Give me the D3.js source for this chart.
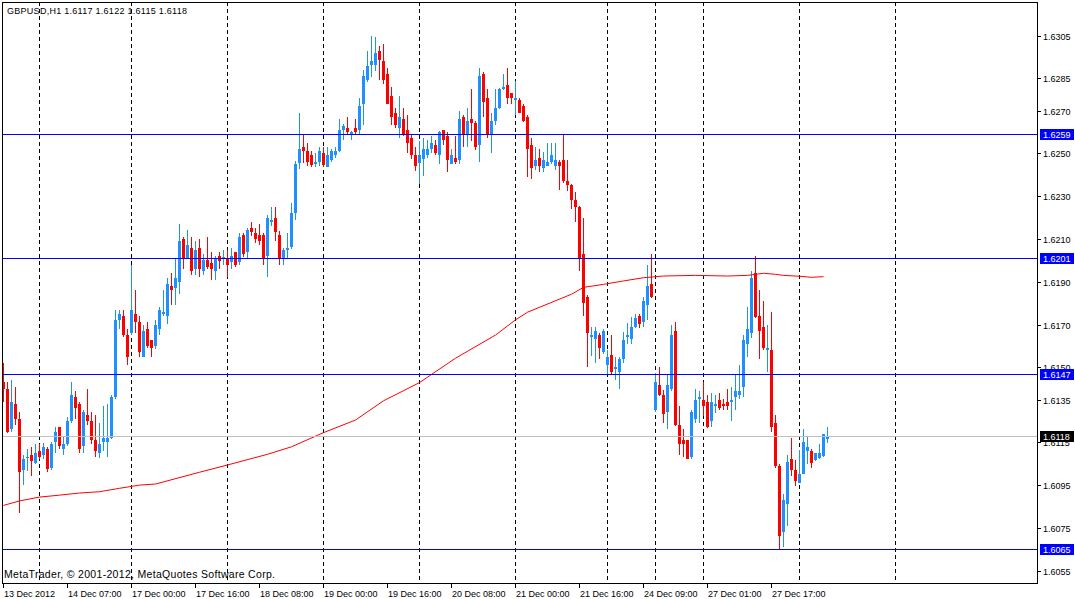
<!DOCTYPE html>
<html lang="en">
<head>
<meta charset="UTF-8">
<title>GBPUSD,H1</title>
<script src="https://d3js.org/d3.v7.min.js"></script>
<style>
  body { margin: 0; background: #fff; }
  svg { display: block; }
  text { font-family: "Liberation Sans", Arial, sans-serif; font-size: 9px; fill: #000; }
</style>
</head>
<body>
<svg id="chart" width="1075" height="599"></svg>
<script>
// hourly bars (index 0 = 13 Dec 2012 15:00)
const opens = [
  1.61433,1.61399,1.61218,1.61329,1.61259,1.61027,1.61080,1.61090,1.61056,1.61109,
  1.61095,1.61118,1.61033,1.61156,1.61221,1.61125,1.61147,1.61255,1.61361,1.61329,
  1.61139,1.61277,1.61249,1.61160,1.61106,1.61157,1.61157,1.61176,1.61368,1.61726,
  1.61740,1.61653,1.61667,1.61749,1.61712,1.61555,1.61679,1.61628,1.61605,1.61686,
  1.61753,1.61745,1.61880,1.61876,1.61904,1.62100,1.62016,1.62056,1.61965,1.62056,
  1.61957,1.62002,1.61988,1.61957,1.62021,1.62014,1.62010,1.61997,1.62039,1.61997,
  1.62119,1.62044,1.62152,1.62128,1.62119,1.62119,1.62026,1.62186,1.62198,1.62119,
  1.62016,1.62055,1.62068,1.62228,1.62458,1.62530,1.62511,1.62492,1.62454,1.62465,
  1.62502,1.62440,1.62474,1.62497,1.62518,1.62614,1.62619,1.62591,1.62619,1.62614,
  1.62736,1.62848,1.62918,1.62918,1.62978,1.62932,1.62871,1.62768,1.62689,1.62624,
  1.62661,1.62609,1.62572,1.62492,1.62458,1.62478,1.62497,1.62525,1.62539,1.62497,
  1.62609,1.62581,1.62455,1.62479,1.62474,1.62670,1.62591,1.62661,1.62642,1.62544,
  1.62871,1.62759,1.62595,1.62656,1.62717,1.62806,1.62820,1.62782,1.62756,1.62750,
  1.62722,1.62670,1.62539,1.62446,1.62479,1.62437,1.62446,1.62465,1.62446,1.62460,
  1.62469,1.62371,1.62352,1.62282,1.62250,1.62030,1.61829,1.61648,1.61639,1.61653,
  1.61577,1.61516,1.61558,1.61497,1.61483,1.61544,1.61648,1.61639,1.61695,1.61742,
  1.61718,1.61798,1.61890,1.61306,1.61418,1.61371,1.61296,1.61404,1.61670,1.61231,
  1.61161,1.61161,1.61086,1.61264,1.61357,1.61348,1.61338,1.61255,1.61326,1.61348,
  1.61330,1.61338,1.61345,1.61366,1.61376,1.61413,1.61614,1.61665,1.61941,1.61740,
  1.61689,1.61586,1.61581,1.61240,1.61039,1.60735,1.60866,1.61072,1.61020,1.60964,
  1.61007,1.61114,1.61109,1.61072,1.61081,1.61090,1.61170
];
const highs = [
  1.61522,1.61433,1.61441,1.61408,1.61291,1.61090,1.61117,1.61128,1.61142,1.61142,
  1.61148,1.61128,1.61150,1.61221,1.61221,1.61176,1.61270,1.61433,1.61390,1.61340,
  1.61301,1.61399,1.61291,1.61277,1.61241,1.61321,1.61329,1.61371,1.61768,1.61768,
  1.61768,1.61679,1.61978,1.61861,1.61740,1.61698,1.61712,1.61628,1.61722,1.61782,
  1.61862,1.61919,1.61941,1.62010,1.62170,1.62109,1.62142,1.62109,1.62091,1.62100,
  1.62030,1.62109,1.62039,1.62021,1.62039,1.62049,1.62049,1.62056,1.62039,1.62128,
  1.62128,1.62152,1.62180,1.62152,1.62170,1.62126,1.62212,1.62250,1.62250,1.62137,
  1.62056,1.62128,1.62268,1.62464,1.62687,1.62586,1.62549,1.62511,1.62502,1.62530,
  1.62530,1.62530,1.62521,1.62530,1.62661,1.62638,1.62670,1.62605,1.62661,1.62759,
  1.62890,1.62978,1.63049,1.63044,1.63002,1.63011,1.62899,1.62810,1.62712,1.62768,
  1.62712,1.62679,1.62586,1.62530,1.62558,1.62572,1.62563,1.62581,1.62563,1.62605,
  1.62609,1.62600,1.62521,1.62581,1.62698,1.62680,1.62712,1.62801,1.62650,1.62900,
  1.62880,1.62801,1.62689,1.62801,1.62806,1.62871,1.62899,1.62782,1.62838,1.62759,
  1.62731,1.62680,1.62572,1.62530,1.62521,1.62507,1.62548,1.62548,1.62548,1.62469,
  1.62586,1.62469,1.62357,1.62320,1.62254,1.62197,1.61838,1.61690,1.61690,1.61662,
  1.61681,1.61581,1.61653,1.61549,1.61549,1.61667,1.61709,1.61737,1.61751,1.61751,
  1.61830,1.61978,1.62030,1.61472,1.61502,1.61395,1.61469,1.61700,1.61714,1.61320,
  1.61212,1.61161,1.61301,1.61399,1.61390,1.61433,1.61371,1.61380,1.61371,1.61380,
  1.61352,1.61399,1.61408,1.61464,1.61511,1.61651,1.61782,1.61951,1.62021,1.61861,
  1.61810,1.61698,1.61759,1.61278,1.61049,1.60908,1.61090,1.61170,1.61067,1.61114,
  1.61212,1.61179,1.61119,1.61100,1.61142,1.61189,1.61220
];
const lows = [
  1.61344,1.61200,1.61203,1.61237,1.60826,1.60957,1.61020,1.60997,1.61053,1.61075,
  1.61078,1.61018,1.61025,1.61106,1.61125,1.61095,1.61137,1.61246,1.61265,1.61106,
  1.61106,1.61235,1.61145,1.61086,1.61081,1.61114,1.61086,1.61171,1.61358,1.61685,
  1.61647,1.61517,1.61658,1.61667,1.61555,1.61555,1.61597,1.61555,1.61589,1.61658,
  1.61745,1.61707,1.61796,1.61796,1.61848,1.61965,1.62010,1.61937,1.61937,1.61927,
  1.61937,1.61965,1.61913,1.61913,1.61965,1.61983,1.61927,1.61965,1.61974,1.61983,
  1.62021,1.62010,1.62119,1.62088,1.62077,1.61983,1.61927,1.62166,1.62095,1.61983,
  1.61983,1.62016,1.62056,1.62194,1.62430,1.62458,1.62446,1.62440,1.62440,1.62446,
  1.62440,1.62440,1.62465,1.62483,1.62511,1.62568,1.62595,1.62568,1.62591,1.62595,
  1.62638,1.62838,1.62862,1.62890,1.62848,1.62829,1.62736,1.62638,1.62624,1.62577,
  1.62586,1.62507,1.62478,1.62422,1.62360,1.62399,1.62483,1.62507,1.62497,1.62455,
  1.62544,1.62418,1.62455,1.62455,1.62455,1.62535,1.62535,1.62563,1.62521,1.62465,
  1.62675,1.62577,1.62507,1.62638,1.62712,1.62801,1.62736,1.62736,1.62684,1.62694,
  1.62651,1.62394,1.62385,1.62427,1.62418,1.62418,1.62446,1.62455,1.62427,1.62334,
  1.62366,1.62329,1.62243,1.62184,1.61955,1.61745,1.61507,1.61558,1.61525,1.61544,
  1.61567,1.61475,1.61474,1.61446,1.61404,1.61527,1.61616,1.61616,1.61690,1.61690,
  1.61695,1.61728,1.61830,1.61296,1.61371,1.61245,1.61217,1.61395,1.61231,1.61095,
  1.61086,1.61077,1.61077,1.61246,1.61246,1.61278,1.61223,1.61228,1.61293,1.61307,
  1.61307,1.61307,1.61256,1.61307,1.61359,1.61366,1.61553,1.61642,1.61735,1.61544,
  1.61586,1.61483,1.61203,1.61034,1.60651,1.60665,1.60764,1.60997,1.60951,1.60964,
  1.61007,1.61053,1.61034,1.61067,1.61076,1.61086,1.61150
];
const closes = [
  1.61405,1.61204,1.61340,1.61265,1.61016,1.61072,1.61083,1.61069,1.61100,1.61086,
  1.61126,1.61028,1.61142,1.61198,1.61139,1.61142,1.61249,1.61371,1.61316,1.61125,
  1.61291,1.61255,1.61165,1.61115,1.61142,1.61171,1.61171,1.61361,1.61721,1.61749,
  1.61656,1.61555,1.61768,1.61718,1.61578,1.61670,1.61605,1.61597,1.61698,1.61768,
  1.61759,1.61890,1.61866,1.61918,1.62091,1.62010,1.62072,1.61957,1.62049,1.61965,
  1.62002,1.61976,1.61965,1.62010,1.62002,1.62017,1.61983,1.62021,1.61983,1.62109,
  1.62035,1.62142,1.62137,1.62105,1.62095,1.62016,1.62198,1.62189,1.62137,1.62010,
  1.62049,1.62058,1.62222,1.62450,1.62521,1.62518,1.62465,1.62449,1.62458,1.62511,
  1.62449,1.62492,1.62511,1.62511,1.62609,1.62628,1.62605,1.62600,1.62605,1.62721,
  1.62862,1.62908,1.62932,1.62969,1.62941,1.62848,1.62736,1.62675,1.62638,1.62670,
  1.62591,1.62553,1.62497,1.62446,1.62492,1.62521,1.62521,1.62548,1.62507,1.62600,
  1.62567,1.62474,1.62493,1.62465,1.62661,1.62595,1.62652,1.62647,1.62535,1.62862,
  1.62745,1.62595,1.62652,1.62712,1.62801,1.62810,1.62764,1.62764,1.62759,1.62694,
  1.62656,1.62525,1.62437,1.62469,1.62446,1.62469,1.62460,1.62493,1.62469,1.62446,
  1.62376,1.62357,1.62287,1.62254,1.62016,1.61806,1.61666,1.61653,1.61668,1.61597,
  1.61670,1.61549,1.61483,1.61502,1.61539,1.61628,1.61653,1.61690,1.61732,1.61709,
  1.61810,1.61880,1.61834,1.61432,1.61376,1.61287,1.61418,1.61651,1.61236,1.61147,
  1.61147,1.61077,1.61292,1.61348,1.61362,1.61324,1.61228,1.61338,1.61330,1.61317,
  1.61326,1.61326,1.61348,1.61390,1.61390,1.61628,1.61679,1.61918,1.61740,1.61675,
  1.61595,1.61591,1.61226,1.61044,1.60717,1.60880,1.61058,1.61025,1.60974,1.61002,
  1.61151,1.61128,1.61058,1.61100,1.61100,1.61189,1.61180
];

// moving average (red line), sampled points: bar index and value
const maIndex = [0,4,9,14,19,24,29,34,38,49,56,66,72,80,88,95,104,113,123,128,131,142,145,150,155,160,165,173,181,186,190,193,195,199,202,205];
const maValues = [1.60855,1.60876,1.60894,1.60903,1.60913,1.60919,1.60935,1.60950,1.60955,1.61010,1.61044,1.61094,1.61129,1.61195,1.61254,1.61344,1.61429,1.61543,1.61651,1.61722,1.61758,1.61842,1.61874,1.61888,1.61904,1.61919,1.61927,1.61930,1.61927,1.61930,1.61940,1.61935,1.61930,1.61926,1.61921,1.61924];

const timeTickIndex = [0,16,32,48,64,80,96,112,128,144,160,176,192];
const timeTickLabels = ["13 Dec 2012","14 Dec 07:00","17 Dec 00:00","17 Dec 16:00","18 Dec 08:00","19 Dec 00:00","19 Dec 16:00","20 Dec 08:00","21 Dec 00:00","21 Dec 16:00","24 Dec 09:00","27 Dec 01:00","27 Dec 17:00"];
const separatorIndex = [9,32,56,80,104,128,151,163,175,199,223];

const priceTicks = [1.6305,1.6285,1.6270,1.6250,1.6230,1.6210,1.6190,1.6170,1.6150,1.6135,1.6115,1.6095,1.6075,1.6055];
const levelPrices = [1.6259,1.6201,1.6147,1.6065];
const bidPrice = 1.6118;

const headerText = "GBPUSD,H1  1.6117 1.6122 1.6115 1.6118";
const footerText = "MetaTrader, \u00a9 2001-2012, MetaQuotes Software Corp.";

const svg = d3.select("#chart");
const plotLeft = 2, plotTop = 2, plotRight = 1037, plotBottom = 583;

const x = d3.scaleLinear().domain([0, 206]).range([3, 827]);
const y = d3.scaleLinear().domain([1.6055, 1.6305]).range([570.7, 35.7]);
const px = v => Math.round(y(v));

const bars = opens.map((o, i) => ({ i, o, h: highs[i], l: lows[i], c: closes[i] }));

svg.append("defs").append("clipPath").attr("id", "plot")
    .append("rect").attr("x", plotLeft).attr("y", plotTop)
    .attr("width", plotRight - plotLeft).attr("height", plotBottom - plotTop);

const plot = svg.append("g").attr("clip-path", "url(#plot)").attr("shape-rendering", "crispEdges");

// day separators
plot.append("g").selectAll("line")
    .data(separatorIndex)
    .join("line")
    .attr("x1", d => Math.round(x(d)) + 0.5)
    .attr("x2", d => Math.round(x(d)) + 0.5)
    .attr("y1", plotTop)
    .attr("y2", plotBottom)
    .attr("stroke", "#000")
    .attr("stroke-dasharray", "4,3");

// candles
const candle = plot.append("g").selectAll("g")
    .data(bars)
    .join("g")
    .attr("fill", d => d.c >= d.o ? "#1e90ff" : "#ff0000");

candle.append("rect")
    .attr("x", d => Math.round(x(d.i)))
    .attr("width", 1)
    .attr("y", d => px(d.h))
    .attr("height", d => px(d.l) - px(d.h) + 1);

candle.append("rect")
    .attr("x", d => Math.round(x(d.i)) - 1)
    .attr("width", 3)
    .attr("y", d => px(Math.max(d.o, d.c)))
    .attr("height", d => px(Math.min(d.o, d.c)) - px(Math.max(d.o, d.c)) + 1);

// moving average
const maLine = d3.line().x(d => x(d[0]) + 0.5).y(d => y(d[1]));
plot.append("path")
    .datum(maIndex.map((d, k) => [d, maValues[k]]))
    .attr("d", maLine)
    .attr("fill", "none")
    .attr("stroke", "#ff0000")
    .attr("stroke-width", 1)
    .attr("shape-rendering", "auto");

// bid line and horizontal levels
plot.append("line")
    .attr("x1", plotLeft).attr("x2", plotRight)
    .attr("y1", px(bidPrice) + 0.5).attr("y2", px(bidPrice) + 0.5)
    .attr("stroke", "#c0c0c0");

plot.append("g").selectAll("line")
    .data(levelPrices)
    .join("line")
    .attr("x1", plotLeft).attr("x2", plotRight)
    .attr("y1", d => px(d) + 0.5).attr("y2", d => px(d) + 0.5)
    .attr("stroke", "#0000ff");

// frame
svg.append("rect")
    .attr("x", plotLeft + 0.5).attr("y", plotTop + 0.5)
    .attr("width", plotRight - plotLeft).attr("height", plotBottom - plotTop)
    .attr("fill", "none").attr("stroke", "#000")
    .attr("shape-rendering", "crispEdges");

// price axis
const yAxis = svg.append("g").attr("shape-rendering", "crispEdges");
yAxis.selectAll("line")
    .data(priceTicks)
    .join("line")
    .attr("x1", plotRight).attr("x2", plotRight + 4)
    .attr("y1", d => px(d) + 0.5).attr("y2", d => px(d) + 0.5)
    .attr("stroke", "#000");
yAxis.selectAll("text")
    .data(priceTicks)
    .join("text")
    .attr("x", plotRight + 6)
    .attr("y", d => px(d) + 4)
    .text(d => d.toFixed(4));

// price labels for the lines
const tags = levelPrices.map(p => ({ p, bg: "#0000ff" })).concat([{ p: bidPrice, bg: "#000" }]);
const tag = svg.append("g").selectAll("g")
    .data(tags)
    .join("g");
tag.append("rect")
    .attr("x", plotRight + 3)
    .attr("y", d => px(d.p) - 5)
    .attr("width", 34)
    .attr("height", 11)
    .attr("fill", d => d.bg)
    .attr("shape-rendering", "crispEdges");
tag.append("text")
    .attr("x", plotRight + 6)
    .attr("y", d => px(d.p) + 4)
    .style("fill", "#fff")
    .text(d => d.p.toFixed(4));

// time axis
const xAxis = svg.append("g");
xAxis.selectAll("line")
    .data(timeTickIndex)
    .join("line")
    .attr("x1", d => Math.round(x(d)) + 0.5)
    .attr("x2", d => Math.round(x(d)) + 0.5)
    .attr("y1", plotBottom).attr("y2", plotBottom + 5)
    .attr("stroke", "#000")
    .attr("shape-rendering", "crispEdges");
xAxis.selectAll("text")
    .data(timeTickIndex)
    .join("text")
    .attr("x", d => Math.round(x(d)) + 1)
    .attr("y", 597)
    .text((d, k) => timeTickLabels[k]);

// header and copyright
svg.append("text")
    .attr("x", 7).attr("y", 14)
    .attr("textLength", 180)
    .attr("lengthAdjust", "spacing")
    .text(headerText);

svg.append("text")
    .attr("x", 4).attr("y", 578)
    .style("font-size", "10.5px")
    .attr("textLength", 271)
    .attr("lengthAdjust", "spacing")
    .text(footerText);
</script>
</body>
</html>
